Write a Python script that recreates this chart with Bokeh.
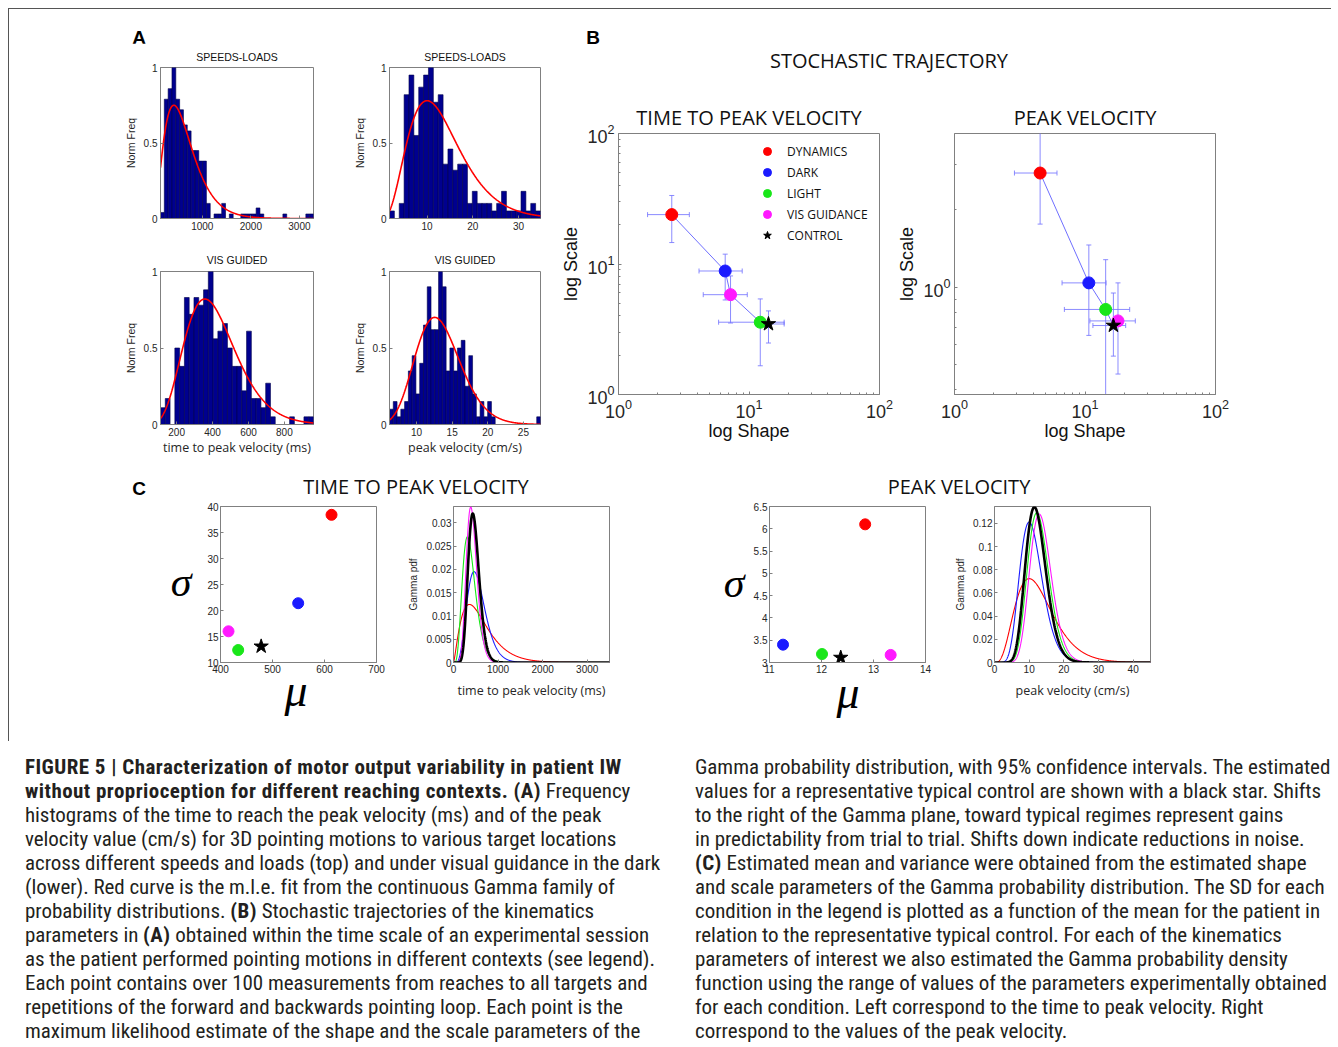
import math
import numpy as np
from bokeh.plotting import figure
from bokeh.models import (Range1d, FixedTicker, Div, Legend, LegendItem, Spacer)
from bokeh.layouts import row, column
from bokeh.embed import file_html
from bokeh.resources import INLINE

# ---------------------------------------------------------------- data
conditions = ["DYNAMICS", "DARK", "LIGHT", "VIS GUIDANCE", "CONTROL"]
cond_colors = ["#ff0000", "#1a1aff", "#19e619", "#ff19ff", "#000000"]
cond_markers = ["circle", "circle", "circle", "circle", "star"]

# Panel A: normalised histogram heights (equal-width bins over the data range)
a1_range = [140, 3290]
a1_freq = [0.04, 0.79, 0.86, 1.00, 0.79, 0.72, 0.62, 0.58, 0.45, 0.45,
           0.38, 0.38, 0.10, 0.00, 0.03, 0.03, 0.10, 0.00, 0.03, 0.00,
           0.00, 0.03, 0.03, 0.03, 0.03, 0.07, 0.03, 0.00, 0.00, 0.00,
           0.00, 0.00, 0.03, 0.00, 0.00, 0.00, 0.00, 0.00, 0.03, 0.03]
a1_fit = [2.9, 218.0, 0.75]          # gamma shape, scale, peak height

a2_range = [1.8, 34.8]
a2_freq = [0.05, 0.00, 0.10, 0.82, 0.95, 0.55, 0.87, 0.95, 1.00, 0.77,
           0.82, 0.36, 0.46, 0.32, 0.36, 0.36, 0.10, 0.18, 0.10, 0.10,
           0.10, 0.05, 0.10, 0.18, 0.05, 0.05, 0.05, 0.18, 0.05, 0.10, 0.05]
a2_fit = [4.1, 3.23, 0.78]

a3_range = [110, 962]
a3_freq = [0.11, 0.17, 0.00, 0.50, 0.38, 0.83, 0.72, 0.83, 0.78, 0.88,
           1.00, 0.56, 0.61, 0.66, 0.50, 0.38, 0.38, 0.22, 0.61, 0.17,
           0.17, 0.11, 0.27, 0.05, 0.00, 0.00, 0.00, 0.05, 0.00, 0.00,
           0.05, 0.05]
a3_fit = [7.3, 56.7, 0.82]

a4_range = [6.2, 27.4]
a4_freq = [0.10, 0.15, 0.05, 0.10, 0.15, 0.35, 0.45, 0.20, 0.40, 0.65,
           0.90, 0.62, 0.62, 1.00, 0.90, 0.35, 0.50, 0.35, 0.50, 0.55,
           0.25, 0.45, 0.20, 0.05, 0.15, 0.05, 0.15, 0.05, 0.00, 0.00,
           0.00, 0.00, 0.00, 0.00, 0.00, 0.00, 0.00, 0.00, 0.00, 0.05]
a4_fit = [17.0, 0.784, 0.70]

a1_xticks = [1000, 2000, 3000]
a2_xticks = [10, 20, 30]
a3_xticks = [200, 400, 600, 800]
a4_xticks = [10, 15, 20, 25]
a_yticks = [0, 0.5, 1]

# Panel B: m.l.e. shape / scale with 95% CI
b1_shape = [2.56, 6.57, 12.2, 7.22, 14.1]
b1_scale = [23.9, 8.84, 3.58, 5.82, 3.47]
b1_shape_lo = [1.67, 4.14, 5.85, 4.46, 11.3]
b1_shape_hi = [3.49, 8.87, 18.6, 9.70, 18.6]
b1_scale_lo = [14.6, 5.30, 1.66, 3.53, 2.48]
b1_scale_hi = [33.5, 11.9, 5.40, 8.10, 4.37]

b2_shape = [4.53, 10.7, 14.4, 17.9, 16.5]
b2_scale = [2.78, 1.04, 0.82, 0.74, 0.71]
b2_shape_lo = [2.88, 6.67, 6.95, 10.9, 11.5]
b2_shape_hi = [6.10, 14.5, 22.0, 24.3, 20.5]
b2_scale_lo = [1.76, 0.65, 0.30, 0.46, 0.54]
b2_scale_hi = [4.50, 1.46, 1.28, 1.04, 0.95]

b_major = [1, 10, 100]
b_minor = [2, 3, 4, 5, 6, 7, 8, 9, 20, 30, 40, 50, 60, 70, 80, 90]
b2_yrange = [0.383, 3.96]
b2_ymajor = [1]
b2_yminor = [0.4, 0.5, 0.6, 0.7, 0.8, 0.9, 2, 3]

# Panel C: mean / SD and gamma pdfs
c1_mu = [613.5, 549.4, 434.0, 415.4, 478.2]
c1_sigma = [38.4, 21.4, 12.4, 16.0, 13.1]
c3_mu = [12.84, 11.26, 12.01, 13.33, 12.37]
c3_sigma = [6.10, 3.40, 3.19, 3.17, 3.11]

c2_shape = [2.40, 6.27, 5.65, 11.66, 13.17]     # time in units of 10 ms
c2_scale = [25.5, 8.77, 6.73, 3.63, 3.55]
c4_shape = [4.45, 10.37, 16.74, 18.3, 16.1]
c4_scale = [2.90, 1.067, 0.775, 0.746, 0.762]

c1_xticks = [400, 500, 600, 700]
c1_yticks = [10, 15, 20, 25, 30, 35, 40]
c2_xticks = [0, 1000, 2000, 3000]
c2_yticks = [0, 0.005, 0.01, 0.015, 0.02, 0.025, 0.03]
c3_xticks = [11, 12, 13, 14]
c3_yticks = [3, 3.5, 4, 4.5, 5, 5.5, 6, 6.5]
c4_xticks = [0, 10, 20, 30, 40]
c4_yticks = [0, 0.02, 0.04, 0.06, 0.08, 0.1, 0.12]

# ---------------------------------------------------------------- helpers
AX = "#808080"
TK = "#262626"
SANS = "Liberation Sans"


def gamma_pdf(x, k, theta):
    x = np.asarray(x, dtype=float)
    out = np.zeros_like(x)
    m = x > 0
    out[m] = np.exp((k - 1) * np.log(x[m]) - x[m] / theta
                    - math.lgamma(k) - k * math.log(theta))
    return out


def ov(ticks):
    return {t: ("%g" % t) for t in ticks}


def make_fig(w, h, bl, br, bt, bb, xr, yr, log=False):
    p = figure(width=w, height=h, min_border_left=bl, min_border_right=br,
               min_border_top=bt, min_border_bottom=bb,
               x_range=Range1d(*xr), y_range=Range1d(*yr),
               x_axis_type="log" if log else "linear",
               y_axis_type="log" if log else "linear",
               toolbar_location=None, output_backend="svg")
    p.xgrid.visible = False
    p.ygrid.visible = False
    p.outline_line_color = AX
    p.border_fill_color = "white"
    return p


def style(p, xt, yt, fs, xminor=(), yminor=(), log=False, lstand=3):
    xa, ya = p.below[0], p.left[0]
    xa.ticker = FixedTicker(ticks=list(xt), minor_ticks=list(xminor))
    ya.ticker = FixedTicker(ticks=list(yt), minor_ticks=list(yminor))
    if not log:
        xa.major_label_overrides = ov(xt)
        ya.major_label_overrides = ov(yt)
    for ax in (xa, ya):
        ax.axis_line_color = AX
        ax.major_tick_line_color = AX
        ax.minor_tick_line_color = AX
        ax.major_tick_in = 3
        ax.major_tick_out = 0
        ax.minor_tick_in = 2
        ax.minor_tick_out = 0
        ax.major_label_text_font = SANS
        ax.major_label_text_font_size = fs
        ax.major_label_text_color = TK
        ax.major_label_standoff = lstand
        ax.axis_label_text_font = SANS
        ax.axis_label_text_font_style = "normal"
        ax.axis_label_text_color = TK
    return xa, ya


def title(p, text, size, font, standoff):
    p.title.text = text
    p.title.align = "center"
    p.title.text_font = font
    p.title.text_font_size = size
    p.title.text_font_style = "normal"
    p.title.text_color = "#111111"
    p.title.standoff = standoff


def txt(x, y, text, css):
    return ('<div style="position:absolute;left:%.1fpx;top:%.1fpx;transform:translate(-50%%,-50%%);'
            'white-space:nowrap;line-height:1;%s">%s</div>' % (x, y, css, text))


def overlay(w, h, parts):
    return Div(width=w, height=h, margin=(0, 0, 0, 0), text=(
        '<div style="position:relative;width:%dpx;height:%dpx;">%s</div>' % (w, h, "".join(parts))))


LETTER = "font-family:'Liberation Sans';font-weight:bold;font-size:19px;color:#000"
BIG = "font-family:'Open Sans';font-size:20px;color:#111"
GREEK_S = "font-family:'Liberation Serif';font-style:italic;font-size:42px;color:#000"
GREEK_M = "font-family:'Liberation Serif';font-style:italic;font-size:46px;color:#000"


def hist_fig(w, h, bl, br, bt, bb, rng, freq, fit, xt, ttl, xlabel=None, tstand=10):
    p = make_fig(w, h, bl, br, bt, bb, rng, (0, 1))
    n = len(freq)
    edges = np.linspace(rng[0], rng[1], n + 1)
    p.quad(left=edges[:-1], right=edges[1:], bottom=0, top=freq,
           fill_color="#00008f", line_color="#00004a", line_width=0.6)
    xs = np.linspace(rng[0], rng[1], 400)
    k, th, pk = fit
    ys = gamma_pdf(xs, k, th)
    ys = ys / gamma_pdf([(k - 1) * th], k, th)[0] * pk
    p.line(xs, ys, color="#ff0000", line_width=1.6)
    xa, ya = style(p, xt, a_yticks, "10px", lstand=3)
    ya.axis_label = "Norm Freq"
    ya.axis_label_text_font_size = "10.5px"
    ya.axis_label_standoff = 4
    title(p, ttl, "10.5px", SANS, tstand)
    if xlabel:
        xa.axis_label = xlabel
        xa.axis_label_text_font = "Open Sans"
        xa.axis_label_text_font_size = "12.5px"
        xa.axis_label_standoff = 0
    return p


# ---------------------------------------------------------------- panel A  (x 8..555)
A1 = hist_fig(341, 203, 151, 37, 22, 28, a1_range, a1_freq, a1_fit, a1_xticks, "SPEEDS-LOADS")
A2 = hist_fig(206, 203, 37, 16, 22, 28, a2_range, a2_freq, a2_fit, a2_xticks, "SPEEDS-LOADS")
A3 = hist_fig(341, 223, 151, 37, 25, 45, a3_range, a3_freq, a3_fit, a3_xticks, "VIS GUIDED",
              "time to peak velocity (ms)", 11)
A4 = hist_fig(206, 223, 37, 16, 25, 45, a4_range, a4_freq, a4_fit, a4_xticks, "VIS GUIDED",
              "peak velocity (cm/s)", 11)
a_head = overlay(547, 34, [txt(130, 28, "A", LETTER)])


# ---------------------------------------------------------------- panel B  (x 555..1330)
def b_fig(w, bl, br, shape, scale, slo, shi, clo, chi, yrange, ymaj, ymin, ttl, legend):
    p = make_fig(w, 378, bl, br, 42, 75, (1, 100), yrange, log=True)
    ec = "#7777ff"
    p.segment(x0=slo, y0=scale, x1=shi, y1=scale, line_color=ec, line_width=1, line_alpha=0.85)
    p.segment(x0=shape, y0=clo, x1=shape, y1=chi, line_color=ec, line_width=1, line_alpha=0.85)
    p.scatter(x=list(slo) + list(shi), y=list(scale) * 2, marker="dash", angle=math.pi / 2,
              size=5, line_color=ec, line_alpha=0.85)
    p.scatter(x=list(shape) * 2, y=list(clo) + list(chi), marker="dash",
              size=5, line_color=ec, line_alpha=0.85)
    order = np.argsort(shape)
    p.line(x=[shape[i] for i in order], y=[scale[i] for i in order],
           line_color="#6f6fff", line_width=1)
    items = []
    for i, c in enumerate(conditions):
        r = p.scatter([shape[i]], [scale[i]], marker=cond_markers[i],
                      size=15 if cond_markers[i] == "star" else 12,
                      fill_color=cond_colors[i], line_color=cond_colors[i])
        items.append(LegendItem(label=c, renderers=[r]))
    xa, ya = style(p, b_major, ymaj, "18px", xminor=b_minor, yminor=ymin, log=True, lstand=4)
    xa.axis_label = "log Shape"
    ya.axis_label = "log Scale"
    for ax in (xa, ya):
        ax.axis_label_text_font_size = "18px"
        ax.axis_label_text_color = "#111111"
        ax.axis_label_standoff = 3
    xa.axis_label_standoff = 0
    title(p, ttl, "20px", "Open Sans", 5)
    if legend:
        lg = Legend(items=items, location=(139, 149), border_line_color=None,
                    background_fill_alpha=0, label_text_font="Open Sans",
                    label_text_font_size="12px", label_text_color="#111111",
                    glyph_height=20, glyph_width=20, label_height=20, spacing=1,
                    padding=0, margin=0, label_standoff=10)
        p.add_layout(lg)
    return p


B1 = b_fig(338, 62, 15, b1_shape, b1_scale, b1_shape_lo, b1_shape_hi, b1_scale_lo,
           b1_scale_hi, (1, 100), b_major, b_minor, "TIME TO PEAK VELOCITY", True)
B2 = b_fig(437, 60, 116, b2_shape, b2_scale, b2_shape_lo, b2_shape_hi, b2_scale_lo,
           b2_scale_hi, b2_yrange, b2_ymajor, b2_yminor, "PEAK VELOCITY", False)
b_head = overlay(775, 82, [txt(37, 28, "B", LETTER), txt(333, 52, "STOCHASTIC TRAJECTORY", BIG)])


# ---------------------------------------------------------------- panel C
def scatter_fig(w, bl, br, mu, sig, xr, yr, xt, yt):
    p = make_fig(w, 178, bl, br, 8, 14, xr, yr)
    for i in range(len(conditions)):
        p.scatter([mu[i]], [sig[i]], marker=cond_markers[i],
                  size=15 if cond_markers[i] == "star" else 11,
                  fill_color=cond_colors[i], line_color=cond_colors[i])
    style(p, xt, yt, "10px", lstand=2)
    return p


def pdf_fig(w, bl, br, shapes, scales, xr, yr, xt, yt, xlabel, unit):
    p = make_fig(w, 243, bl, br, 8, 79, xr, yr)
    xs = np.linspace(xr[0], xr[1], 801)
    for i in range(len(conditions)):
        ys = gamma_pdf(xs / unit, shapes[i], scales[i])
        p.line(xs, ys, line_color=cond_colors[i],
               line_width=2.6 if i == len(conditions) - 1 else 1.1)
    xa, ya = style(p, xt, yt, "10px", lstand=2)
    xa.axis_label = xlabel
    xa.axis_label_text_font = "Open Sans"
    xa.axis_label_text_font_size = "12.5px"
    xa.axis_label_standoff = 6
    ya.axis_label = "Gamma pdf"
    ya.axis_label_text_font_size = "10px"
    ya.axis_label_standoff = 4
    return p


C1 = scatter_fig(202, 21, 25, c1_mu, c1_sigma, (400, 700), (10, 40), c1_xticks, c1_yticks)
C2 = pdf_fig(300, 52, 92, c2_shape, c2_scale, (0, 3500), (0, 0.0335), c2_xticks, c2_yticks,
             "time to peak velocity (ms)", 10.0)
C3 = scatter_fig(205, 23, 26, c3_mu, c3_sigma, (11, 14), (3, 6.5), c3_xticks, c3_yticks)
C4 = pdf_fig(380, 43, 181, c4_shape, c4_scale, (0, 45), (0, 0.1345), c4_xticks, c4_yticks,
             "peak velocity (cm/s)", 1.0)

c1_sig = overlay(190, 243, [txt(172, 83.5, "σ", GREEK_S)])
c1_mu_lab = overlay(202, 65, [txt(97, 15, "μ", GREEK_M)])
c3_sig = overlay(45, 243, [txt(33, 84.5, "σ", GREEK_S)])
c3_mu_lab = overlay(205, 65, [txt(102, 17, "μ", GREEK_M)])

c_head = overlay(1322, 29, [txt(130, 19, "C", LETTER),
                            txt(407, 18, "TIME TO PEAK VELOCITY", BIG),
                            txt(950, 18, "PEAK VELOCITY", BIG)])

# ---------------------------------------------------------------- caption
cap_left_lines = [
    "<b>FIGURE 5 | Characterization of motor output variability in patient IW</b>",
    "<b>without proprioception for different reaching contexts. (A)</b> Frequency",
    "histograms of the time to reach the peak velocity (ms) and of the peak",
    "velocity value (cm/s) for 3D pointing motions to various target locations",
    "across different speeds and loads (top) and under visual guidance in the dark",
    "(lower). Red curve is the m.l.e. fit from the continuous Gamma family of",
    "probability distributions. <b>(B)</b> Stochastic trajectories of the kinematics",
    "parameters in <b>(A)</b> obtained within the time scale of an experimental session",
    "as the patient performed pointing motions in different contexts (see legend).",
    "Each point contains over 100 measurements from reaches to all targets and",
    "repetitions of the forward and backwards pointing loop. Each point is the",
    "maximum likelihood estimate of the shape and the scale parameters of the",
]
cap_right_lines = [
    "Gamma probability distribution, with 95% confidence intervals. The estimated",
    "values for a representative typical control are shown with a black star. Shifts",
    "to the right of the Gamma plane, toward typical regimes represent gains",
    "in predictability from trial to trial. Shifts down indicate reductions in noise.",
    "<b>(C)</b> Estimated mean and variance were obtained from the estimated shape",
    "and scale parameters of the Gamma probability distribution. The SD for each",
    "condition in the legend is plotted as a function of the mean for the patient in",
    "relation to the representative typical control. For each of the kinematics",
    "parameters of interest we also estimated the Gamma probability density",
    "function using the range of values of the parameters experimentally obtained",
    "for each condition. Left correspond to the time to peak velocity. Right",
    "correspond to the values of the peak velocity.",
]
CAP_FONT = ("font-family:'Liberation Sans Narrow','Arial Narrow','Roboto Condensed',"
            "'Liberation Sans',sans-serif;font-size:21px;line-height:24px;color:#231f20;"
            "white-space:nowrap;letter-spacing:-0.05px;")


def cap_html(lines):
    return "<br>".join(l.replace("<b>", '<b style="letter-spacing:0.45px">') for l in lines)


cap_left = Div(width=672, height=300, margin=(0, 0, 0, 0), text=(
    '<div style="padding:14px 0 0 17px;' + CAP_FONT + '">' + cap_html(cap_left_lines) + "</div>"))
cap_right = Div(width=650, height=300, margin=(0, 0, 0, 0), text=(
    '<div style="padding:14px 0 0 15px;' + CAP_FONT + '">' + cap_html(cap_right_lines) + "</div>"))

# ---------------------------------------------------------------- layout
a_block = column(a_head, row(A1, A2), row(A3, A4))
b_block = column(b_head, row(B1, B2))
top_row = row(a_block, b_block)
c_row = row(row(c1_sig, column(C1, c1_mu_lab)), C2,
            row(c3_sig, column(C3, c3_mu_lab)), C4)
panel = column(top_row, c_head, c_row,
               styles={"border-top": "1px solid #555555", "border-left": "1px solid #555555"})
content = column(panel, row(cap_left, cap_right))
root = row(Spacer(width=8, height=10), column(Spacer(width=10, height=8), content))

open("out.html", "w").write(file_html(root, INLINE))
